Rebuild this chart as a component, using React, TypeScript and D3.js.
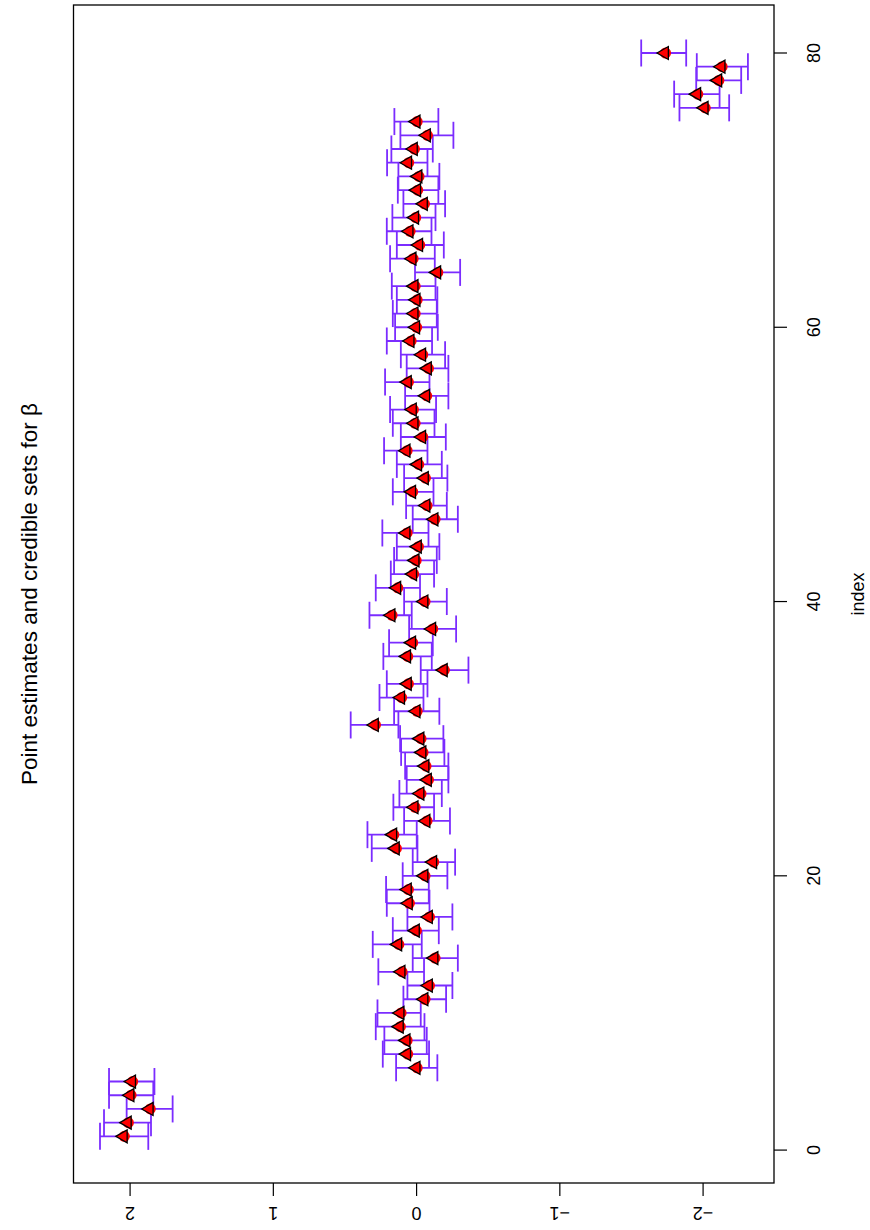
import * as React from 'react';
import * as d3 from 'd3';

const WIDTH = 870;
const HEIGHT = 1230;

// plot box edges (the R plot is drawn turned a quarter turn)
const BOX = { left: 73.5, right: 774, top: 5, bottom: 1183 };

// coefficient index 1..80
const INDEX = d3.range(1, 81);

// point estimates of beta
const ESTIMATE = [
    2.047, 2.019, 1.866, 2.0, 1.989, 0.003, 0.069, 0.073, 0.12, 0.115,
    -0.052, -0.083, 0.108, -0.122, 0.131, 0.008, -0.083, 0.057, 0.064, -0.052,
    -0.113, 0.148, 0.166, -0.066, 0.017, -0.024, -0.076, -0.059, -0.038, -0.024,
    0.294, 0.003, 0.111, 0.064, -0.187, 0.069, 0.034, -0.106, 0.178, -0.052,
    0.138, 0.027, 0.01, -0.006, 0.073, -0.122, -0.066, 0.034, -0.055, -0.008,
    0.073, -0.036, 0.017, 0.029, -0.064, 0.064, -0.076, -0.036, 0.045, 0.006,
    0.017, 0.003, 0.017, -0.141, 0.031, -0.015, 0.052, 0.013, -0.048, -0.001,
    -0.01, 0.062, 0.022, -0.069, 0.003, -2.008, -1.956, -2.103, -2.126, -1.731
];

// upper end of the credible set
const UPPER = [
    2.21, 2.182, 2.024, 2.147, 2.147, 0.143, 0.236, 0.225, 0.285, 0.273,
    0.092, 0.064, 0.267, 0.027, 0.306, 0.166, 0.064, 0.208, 0.213, 0.097,
    0.027, 0.313, 0.343, 0.087, 0.162, 0.12, 0.069, 0.08, 0.108, 0.115,
    0.46, 0.157, 0.259, 0.208, -0.029, 0.232, 0.192, 0.052, 0.329, 0.087,
    0.285, 0.18, 0.157, 0.138, 0.239, 0.027, 0.073, 0.166, 0.087, 0.138,
    0.227, 0.11, 0.166, 0.185, 0.08, 0.22, 0.069, 0.11, 0.208, 0.15,
    0.166, 0.138, 0.173, 0.011, 0.185, 0.138, 0.208, 0.169, 0.092, 0.131,
    0.127, 0.206, 0.176, 0.113, 0.155, -1.835, -1.798, -1.952, -1.956, -1.568
];

// lower end of the credible set
const LOWER = [
    1.873, 1.854, 1.703, 1.838, 1.83, -0.145, -0.087, -0.071, -0.055, -0.029,
    -0.206, -0.25, -0.052, -0.288, -0.036, -0.155, -0.25, -0.09, -0.085, -0.215,
    -0.269, -0.006, -0.001, -0.233, -0.122, -0.176, -0.222, -0.222, -0.194, -0.187,
    0.127, -0.159, -0.048, -0.076, -0.362, -0.106, -0.113, -0.276, 0.034, -0.211,
    -0.024, -0.122, -0.141, -0.159, -0.083, -0.288, -0.211, -0.118, -0.215, -0.176,
    -0.076, -0.204, -0.125, -0.136, -0.222, -0.09, -0.222, -0.199, -0.108, -0.148,
    -0.141, -0.145, -0.132, -0.304, -0.127, -0.19, -0.104, -0.132, -0.199, -0.152,
    -0.159, -0.076, -0.113, -0.257, -0.152, -2.182, -2.115, -2.266, -2.313, -1.882
];

const INDEX_TICKS = [0, 20, 40, 60, 80];
const VALUE_TICKS = [2, 1, 0, -1, -2];

const BAR_COLOR = '#7b2cff';
const FONT = '"Liberation Sans", Arial, Helvetica, sans-serif';

export default function App() {
    const ref = React.useRef<SVGSVGElement>(null);

    React.useEffect(() => {
        const svg = d3.select(ref.current);
        svg.selectAll('*').remove();

        // value runs right to left, index runs bottom to top
        const xScale = d3.scaleLinear().domain([2.395, -2.495]).range([BOX.left, BOX.right]);
        const yScale = d3.scaleLinear().domain([-2.4, 83.5]).range([BOX.bottom, BOX.top]);

        const data = INDEX.map((idx, k) => ({
            idx,
            est: ESTIMATE[k],
            up: UPPER[k],
            lo: LOWER[k],
        }));

        svg.append('rect')
            .attr('width', WIDTH)
            .attr('height', HEIGHT)
            .attr('fill', '#fff');

        // credible sets, drawn like R arrows(angle=90, code=3)
        const cap = 13.5;
        const bars = svg.append('g').attr('class', 'bars')
            .attr('stroke', BAR_COLOR)
            .attr('stroke-width', 1.8)
            .attr('fill', 'none');

        const bar = bars.selectAll('g').data(data).enter().append('g');
        bar.append('line')
            .attr('x1', d => xScale(d.up))
            .attr('x2', d => xScale(d.lo))
            .attr('y1', d => yScale(d.idx))
            .attr('y2', d => yScale(d.idx));
        bar.append('line')
            .attr('x1', d => xScale(d.up))
            .attr('x2', d => xScale(d.up))
            .attr('y1', d => yScale(d.idx) - cap)
            .attr('y2', d => yScale(d.idx) + cap);
        bar.append('line')
            .attr('x1', d => xScale(d.lo))
            .attr('x2', d => xScale(d.lo))
            .attr('y1', d => yScale(d.idx) - cap)
            .attr('y2', d => yScale(d.idx) + cap);

        // estimates: red dot under a red triangle (pointing to larger values)
        const pts = svg.append('g').attr('class', 'points');
        pts.selectAll('circle').data(data).enter().append('circle')
            .attr('cx', d => xScale(d.est) + 1)
            .attr('cy', d => yScale(d.idx))
            .attr('r', 5.5)
            .attr('fill', '#ff0000');

        const tip = 7.6, back = 3.8, half = 6.5;
        pts.selectAll('path').data(data).enter().append('path')
            .attr('d', d => {
                const cx = xScale(d.est), cy = yScale(d.idx);
                return 'M' + [cx - tip, cy] + 'L' + [cx + back, cy - half] + 'L' + [cx + back, cy + half] + 'Z';
            })
            .attr('fill', '#ff0000')
            .attr('stroke', '#000')
            .attr('stroke-width', 1.3)
            .attr('stroke-linejoin', 'miter');

        // plot box
        svg.append('rect')
            .attr('x', BOX.left)
            .attr('y', BOX.top)
            .attr('width', BOX.right - BOX.left)
            .attr('height', BOX.bottom - BOX.top)
            .attr('fill', 'none')
            .attr('stroke', '#000')
            .attr('stroke-width', 1.3);

        // value axis along the bottom, labels upside down
        const vAxis = svg.append('g').attr('class', 'axis value');
        vAxis.selectAll('line').data(VALUE_TICKS).enter().append('line')
            .attr('x1', d => xScale(d))
            .attr('x2', d => xScale(d))
            .attr('y1', BOX.bottom)
            .attr('y2', BOX.bottom + 13)
            .attr('stroke', '#000')
            .attr('stroke-width', 1.2);
        vAxis.selectAll('text').data(VALUE_TICKS).enter().append('text')
            .attr('transform', d => 'translate(' + [xScale(d), 1207] + ') rotate(180)')
            .attr('text-anchor', 'middle')
            .attr('font-family', FONT)
            .attr('font-size', 18)
            .text(d => (d < 0 ? '\u2212' + Math.abs(d) : String(d)));

        // index axis along the right side
        const iAxis = svg.append('g').attr('class', 'axis index');
        iAxis.selectAll('line').data(INDEX_TICKS).enter().append('line')
            .attr('x1', BOX.right)
            .attr('x2', BOX.right + 13)
            .attr('y1', d => yScale(d))
            .attr('y2', d => yScale(d))
            .attr('stroke', '#000')
            .attr('stroke-width', 1.2);
        iAxis.selectAll('text').data(INDEX_TICKS).enter().append('text')
            .attr('transform', d => 'translate(' + [820, yScale(d)] + ') rotate(-90)')
            .attr('text-anchor', 'middle')
            .attr('font-family', FONT)
            .attr('font-size', 18)
            .text(d => String(d));

        svg.append('text')
            .attr('transform', 'translate(' + [864, (BOX.top + BOX.bottom) / 2] + ') rotate(-90)')
            .attr('text-anchor', 'middle')
            .attr('font-family', FONT)
            .attr('font-size', 18)
            .text('index');

        svg.append('text')
            .attr('transform', 'translate(' + [36.5, (BOX.top + BOX.bottom) / 2] + ') rotate(-90)')
            .attr('text-anchor', 'middle')
            .attr('font-family', FONT)
            .attr('font-size', 22.5)
            .text('Point estimates and credible sets for \u03b2');
    }, []);

    return (
        <svg
            ref={ref}
            width={WIDTH}
            height={HEIGHT}
            style={{ position: 'absolute', left: 0, top: 0 }}
        />
    );
}
